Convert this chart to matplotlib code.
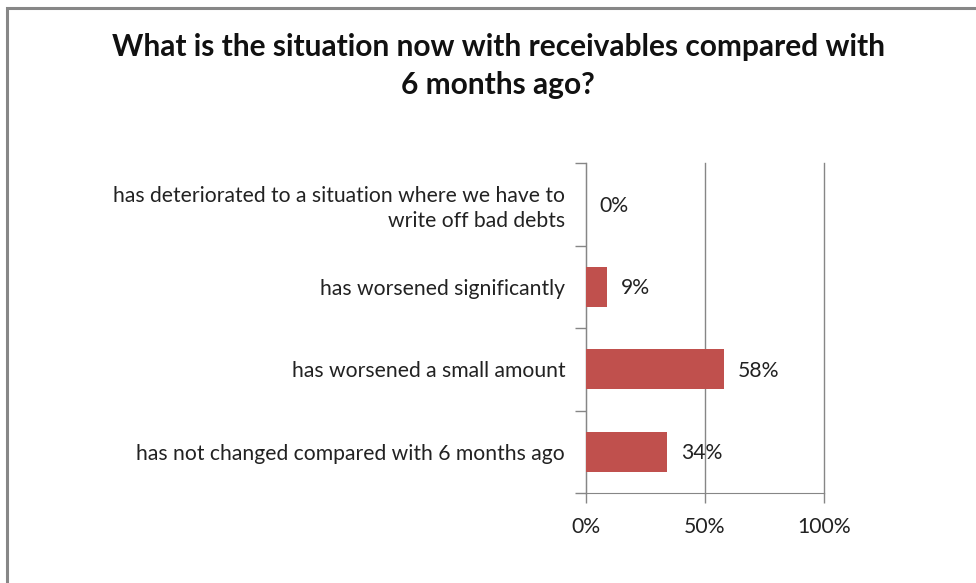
import matplotlib.pyplot as plt
from matplotlib.patches import Rectangle

categories = [
    "has deteriorated to a situation where we have to\nwrite off bad debts",
    "has worsened significantly",
    "has worsened a small amount",
    "has not changed compared with 6 months ago",
]
shares = [0, 9, 58, 34]
pct_labels = ["0%", "9%", "58%", "34%"]
xticks = [0, 50, 100]
xtick_labels = ["0%", "50%", "100%"]

plt.rcParams['font.family'] = ['Lato', 'DejaVu Sans']
FS = 15.2

fig = plt.figure(figsize=(9.76, 5.83), dpi=100)
W, H = 976, 583
ax = fig.add_axes([586 / W, 1 - 493 / H, (824 - 586) / W, (493 - 163) / H])

# outer chart border (runs off the right and bottom edge)
fig.patches.append(Rectangle((7 / W, -0.05), 1.1, 1 - 8 / H + 0.05,
                             transform=fig.transFigure, fill=False,
                             edgecolor='#878787', linewidth=2.2))

ypos = list(range(len(categories)))[::-1]
ax.barh(ypos, shares, height=0.49, color='#C0504D', zorder=3)
for y, v, lab in zip(ypos, shares, pct_labels):
    ax.text(v + 5.8, y - 0.02, lab, va='center', ha='left', fontsize=FS, color='#222222', zorder=4)

ax.set_xlim(0, 100)
ax.set_ylim(-0.5, 3.5)
ax.set_yticks([-0.5, 0.5, 1.5, 2.5, 3.5])
ax.set_yticklabels([])
ax.set_yticks(ypos, minor=True)
ax.set_yticklabels(categories, minor=True, fontsize=FS, color='#222222',
                   linespacing=1.3)
ax.tick_params(axis='y', which='minor', length=0, pad=15)
ax.tick_params(axis='y', which='major', length=8, color='#868686', width=1)
ax.set_xticks(xticks)
ax.set_xticklabels(xtick_labels, fontsize=FS, color='#222222')
ax.tick_params(axis='x', length=7, color='#868686', width=1, pad=10)

ax.grid(axis='x', color='#868686', linewidth=1, zorder=0)
for gl in ax.get_xgridlines():
    gl.set_clip_on(False)
for s in ['top', 'right']:
    ax.spines[s].set_visible(False)
for s in ['left', 'bottom']:
    ax.spines[s].set_color('#868686')

fig.text(498 / W, 1 - 66 / H,
         "What is the situation now with receivables compared with\n6 months ago?",
         ha='center', va='center', fontsize=21.5, fontweight='bold',
         linespacing=1.45, color='#111111')

fig.savefig('out.png', dpi=100)
